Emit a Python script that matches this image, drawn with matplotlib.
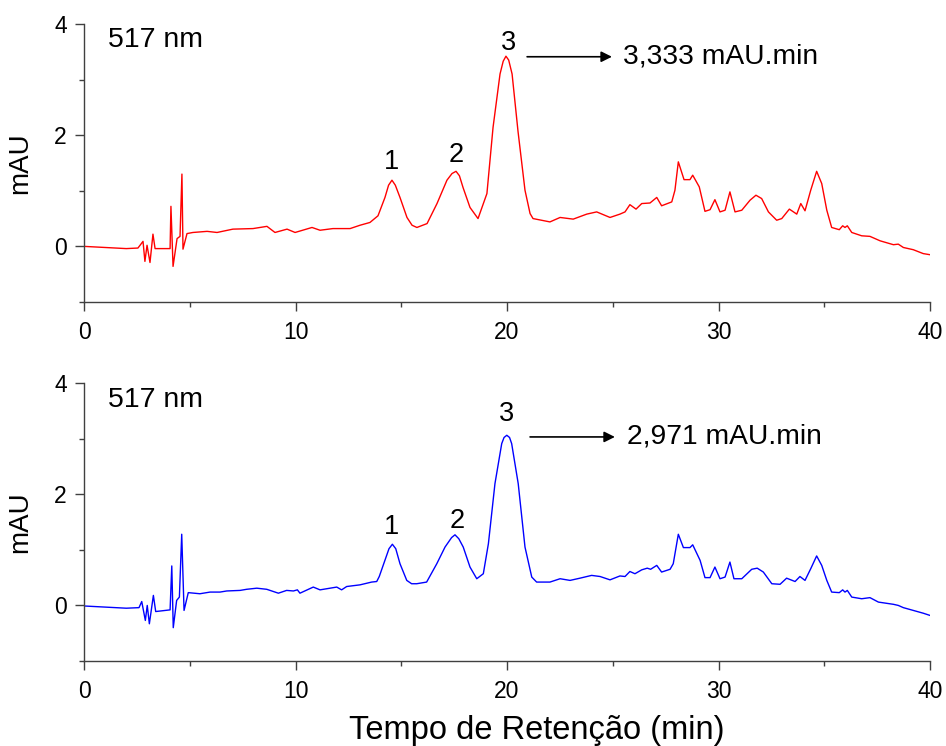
import matplotlib
matplotlib.use('Agg')
import matplotlib.pyplot as plt
from matplotlib.ticker import MultipleLocator

plt.rcParams['font.family'] = ['Liberation Sans', 'DejaVu Sans']

# Retention time (min) and absorbance (mAU)
t_red = [0, 1, 2, 2.55, 2.79, 2.88, 2.98, 3.12, 3.26, 3.36, 4.07, 4.11, 4.21, 4.40, 4.54,
         4.63, 4.68, 4.87, 5.15, 5.82, 6.29, 7.04, 7.99, 8.65, 9.03, 9.6, 9.98, 10.78,
         11.16, 11.77, 12.58, 13.05, 13.52, 13.9, 14.23, 14.4, 14.56, 14.72, 14.94, 15.27,
         15.51, 15.74, 16.22, 16.69, 17.16, 17.4, 17.59, 17.75, 17.92, 18.25, 18.63, 19.05,
         19.34, 19.67, 19.82, 19.95, 20.08, 20.24, 20.52, 20.85, 21.09, 21.23, 22.03, 22.51,
         23.13, 23.77, 24.24, 24.87, 25.34, 25.58, 25.81, 26.10, 26.37, 26.76, 27.08, 27.31,
         27.79, 27.94, 28.10, 28.37, 28.65, 28.78, 29.09, 29.36, 29.60, 29.83, 30.07, 30.31,
         30.54, 30.78, 31.10, 31.49, 31.77, 32.04, 32.36, 32.75, 32.99, 33.35, 33.70, 33.89,
         34.09, 34.36, 34.64, 34.88, 35.12, 35.35, 35.71, 35.87, 35.98, 36.09, 36.30, 36.77,
         37.16, 37.64, 38.27, 38.50, 38.74, 39.21, 39.68, 40.0]
y_red = [0.0, -0.02, -0.04, -0.03, 0.09, -0.27, 0.02, -0.29, 0.22, -0.04, -0.04, 0.72, -0.36,
         0.14, 0.18, 1.30, -0.05, 0.23, 0.25, 0.27, 0.25, 0.31, 0.32, 0.36, 0.25, 0.31, 0.25,
         0.34, 0.29, 0.32, 0.32, 0.38, 0.43, 0.55, 0.88, 1.10, 1.19, 1.10, 0.88, 0.52, 0.38,
         0.34, 0.41, 0.77, 1.19, 1.31, 1.35, 1.27, 1.06, 0.70, 0.50, 0.95, 2.14, 3.10, 3.33,
         3.42, 3.35, 3.10, 2.07, 1.01, 0.59, 0.50, 0.44, 0.52, 0.49, 0.58, 0.62, 0.52, 0.58,
         0.62, 0.75, 0.67, 0.77, 0.78, 0.88, 0.73, 0.80, 1.01, 1.52, 1.20, 1.20, 1.28, 1.07,
         0.63, 0.66, 0.84, 0.62, 0.65, 0.98, 0.62, 0.65, 0.83, 0.92, 0.86, 0.62, 0.47, 0.50,
         0.67, 0.58, 0.77, 0.64, 1.01, 1.35, 1.13, 0.65, 0.34, 0.30, 0.37, 0.34, 0.37, 0.25,
         0.19, 0.18, 0.10, 0.03, 0.04, -0.02, -0.06, -0.13, -0.15]

t_blue = [0, 1, 2, 2.6, 2.73, 2.90, 2.99, 3.09, 3.28, 3.39, 4.07, 4.15, 4.22, 4.38, 4.51,
          4.62, 4.73, 4.93, 5.48, 5.96, 6.43, 6.75, 7.38, 7.69, 8.17, 8.64, 9.19, 9.58, 9.90,
          10.09, 10.21, 10.84, 11.16, 11.95, 12.18, 12.42, 13.05, 13.60, 13.84, 13.96, 14.23,
          14.42, 14.58, 14.74, 14.94, 15.26, 15.49, 15.73, 16.20, 16.68, 17.07, 17.38, 17.54,
          17.72, 17.93, 18.25, 18.57, 18.88, 19.12, 19.43, 19.75, 19.86, 19.99, 20.12, 20.22,
          20.53, 20.85, 21.17, 21.40, 22.03, 22.51, 22.98, 23.45, 24.00, 24.40, 24.87, 25.34,
          25.58, 25.81, 26.05, 26.37, 26.63, 26.79, 27.08, 27.31, 27.71, 27.86, 28.10, 28.34,
          28.65, 28.78, 28.97, 29.13, 29.36, 29.60, 29.83, 30.07, 30.31, 30.54, 30.73, 31.10,
          31.57, 31.83, 32.12, 32.52, 32.91, 33.22, 33.62, 33.85, 34.09, 34.36, 34.64, 34.88,
          35.12, 35.35, 35.71, 35.87, 35.98, 36.09, 36.30, 36.77, 37.16, 37.56, 38.27, 38.50,
          38.74, 39.21, 39.68, 40.0]
y_blue = [-0.01, -0.03, -0.05, -0.04, 0.07, -0.27, 0.0, -0.33, 0.18, -0.11, -0.08, 0.71,
          -0.40, 0.09, 0.15, 1.28, -0.09, 0.23, 0.21, 0.24, 0.24, 0.26, 0.27, 0.29, 0.31,
          0.29, 0.22, 0.27, 0.26, 0.28, 0.22, 0.33, 0.28, 0.33, 0.28, 0.34, 0.37, 0.42, 0.43,
          0.52, 0.81, 1.02, 1.10, 1.02, 0.75, 0.45, 0.39, 0.39, 0.42, 0.75, 1.05, 1.22, 1.27,
          1.20, 1.05, 0.69, 0.48, 0.57, 1.11, 2.19, 2.91, 3.02, 3.06, 3.02, 2.91, 2.19, 1.05,
          0.51, 0.42, 0.42, 0.48, 0.45, 0.49, 0.54, 0.52, 0.46, 0.53, 0.52, 0.61, 0.57, 0.64,
          0.67, 0.65, 0.72, 0.60, 0.65, 0.75, 1.28, 1.04, 1.04, 1.09, 0.94, 0.81, 0.50, 0.50,
          0.69, 0.48, 0.51, 0.78, 0.48, 0.48, 0.65, 0.67, 0.60, 0.39, 0.38, 0.49, 0.43, 0.52,
          0.45, 0.66, 0.89, 0.72, 0.45, 0.24, 0.23, 0.28, 0.24, 0.27, 0.15, 0.12, 0.14, 0.06,
          0.02, 0.0, -0.04, -0.09, -0.14, -0.18]

peak_labels = ['1', '2', '3']
peak_x_red = [14.56, 17.59, 20.05]
peak_y_red = [1.51, 1.64, 3.66]
peak_x_blue = [14.56, 17.64, 20.0]
peak_y_blue = [1.41, 1.51, 3.44]
area_red = '3,333 mAU.min'
area_blue = '2,971 mAU.min'

fig = plt.figure(figsize=(9.46, 7.46), dpi=100)
ax1 = fig.add_axes([0.0888, 0.5952, 0.8943, 0.3727])
ax2 = fig.add_axes([0.0888, 0.1139, 0.8943, 0.3727])

panels = [
    (ax1, t_red, y_red, 'red', peak_x_red, peak_y_red, area_red, 3.41, 20.95, 24.96, 25.48, 3.71),
    (ax2, t_blue, y_blue, 'blue', peak_x_blue, peak_y_blue, area_blue, 3.03, 21.09, 25.1, 25.67, 3.69),
]

for ax, t, y, col, px, py, area, ay, ax0, ax1_, tx, nm_y in panels:
    ax.plot(t, y, color=col, lw=1.0)
    ax.set_xlim(0, 40)
    ax.set_ylim(-1, 4)
    ax.spines['top'].set_visible(False)
    ax.spines['right'].set_visible(False)
    for s in ['left', 'bottom']:
        ax.spines[s].set_color('#404040')
        ax.spines[s].set_linewidth(1.0)
    ax.xaxis.set_major_locator(MultipleLocator(10))
    ax.xaxis.set_minor_locator(MultipleLocator(5))
    ax.yaxis.set_major_locator(MultipleLocator(2))
    ax.yaxis.set_minor_locator(MultipleLocator(1))
    ax.tick_params(which='major', length=6.5, width=1.0, color='#404040', labelsize=16.5, pad=6)
    ax.tick_params(axis='x', which='major', pad=7)
    ax.tick_params(which='minor', length=3.6, width=1.0, color='#404040')
    ax.set_ylabel('mAU', fontsize=20)
    ax.yaxis.set_label_coords(-0.060, 0.5)

    ax.text(1.13, nm_y, '517 nm', fontsize=20.5, ha='left', va='center')
    for lab, xx, yy in zip(peak_labels, px, py):
        ax.text(xx, yy, lab, fontsize=19.5, ha='center', va='center')
    ax.annotate('', xy=(ax1_, ay), xytext=(ax0, ay),
                arrowprops=dict(arrowstyle='-|>', color='black', lw=1.2,
                                mutation_scale=16, shrinkA=0, shrinkB=0))
    ax.text(tx, ay, area, fontsize=20.3, ha='left', va='center')

ax2.set_xlabel('Tempo de Retenção (min)', fontsize=23.5)
ax2.xaxis.set_label_coords(0.535, -0.195)

fig.savefig('out.png', dpi=100)
